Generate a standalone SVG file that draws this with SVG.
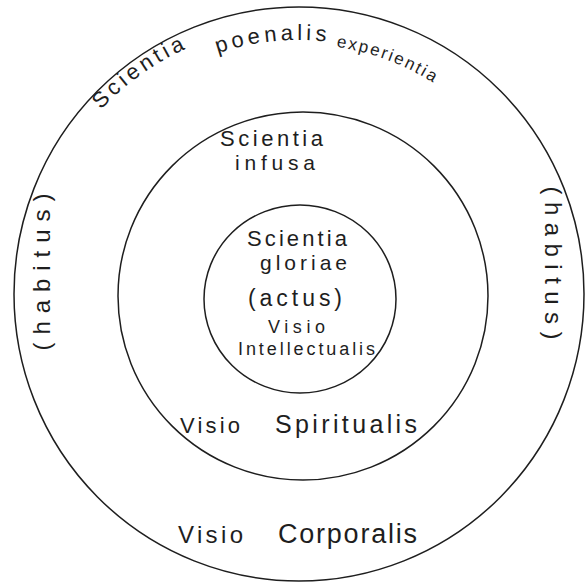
<svg xmlns="http://www.w3.org/2000/svg" width="585" height="583" viewBox="0 0 585 583">
  <style>
    .ring { fill: none; stroke: #1e1e1e; stroke-width: 1.5; }
    .t { font-family: "Liberation Sans", "DejaVu Sans", sans-serif; fill: #1e1e1e; }
  </style>
  <defs>
    <path id="arc1" d="M 27 296 A 272 272 0 0 1 571 296"/>
    <path id="arc2" d="M 43 296 A 256 256 0 0 1 555 296"/>
    <path id="arc3" d="M 47 296 A 252 252 0 0 1 551 296"/>
  </defs>
  <rect width="585" height="583" fill="#ffffff"/>

  <g id="outer-ring">
    <ellipse class="ring" cx="299" cy="294" rx="285" ry="287"/>
    <text class="t" font-size="22"><textPath href="#arc1" startOffset="205" textLength="105" lengthAdjust="spacing">Scientia</textPath></text>
    <text class="t" font-size="22"><textPath href="#arc2" startOffset="319" textLength="110" lengthAdjust="spacing">poenalis</textPath></text>
    <text class="t" font-size="17"><textPath href="#arc3" startOffset="433" textLength="104" lengthAdjust="spacing">experientia</textPath></text>
    <text class="t" font-size="24" text-anchor="middle" transform="translate(50 272) rotate(-90)" textLength="157" lengthAdjust="spacing">(habitus)</text>
    <text class="t" font-size="24" text-anchor="middle" transform="translate(545 263) rotate(90)" textLength="153" lengthAdjust="spacing">(habitus)</text>
    <text class="t" font-size="24" x="178" y="543" textLength="65" lengthAdjust="spacing">Visio</text>
    <text class="t" font-size="27" x="278" y="543" textLength="139" lengthAdjust="spacing">Corporalis</text>
  </g>

  <g id="middle-ring">
    <ellipse class="ring" cx="303" cy="296" rx="185" ry="184"/>
    <text class="t" font-size="22" x="220" y="146" textLength="103" lengthAdjust="spacing">Scientia</text>
    <text class="t" font-size="21" x="235" y="170" textLength="80" lengthAdjust="spacing">infusa</text>
    <text class="t" font-size="22" x="180" y="433" textLength="60" lengthAdjust="spacing">Visio</text>
    <text class="t" font-size="25" x="275" y="433" textLength="142" lengthAdjust="spacing">Spiritualis</text>
  </g>

  <g id="inner-ring">
    <ellipse class="ring" cx="300" cy="299" rx="96" ry="94"/>
    <text class="t" font-size="22" x="247" y="246" textLength="100" lengthAdjust="spacing">Scientia</text>
    <text class="t" font-size="21" x="260" y="270" textLength="87" lengthAdjust="spacing">gloriae</text>
    <text class="t" font-size="23" x="248" y="306" textLength="94" lengthAdjust="spacing">(actus)</text>
    <text class="t" font-size="18" x="268" y="333" textLength="57" lengthAdjust="spacing">Visio</text>
    <text class="t" font-size="18" x="238" y="355" textLength="137" lengthAdjust="spacing">Intellectualis</text>
  </g>
</svg>
